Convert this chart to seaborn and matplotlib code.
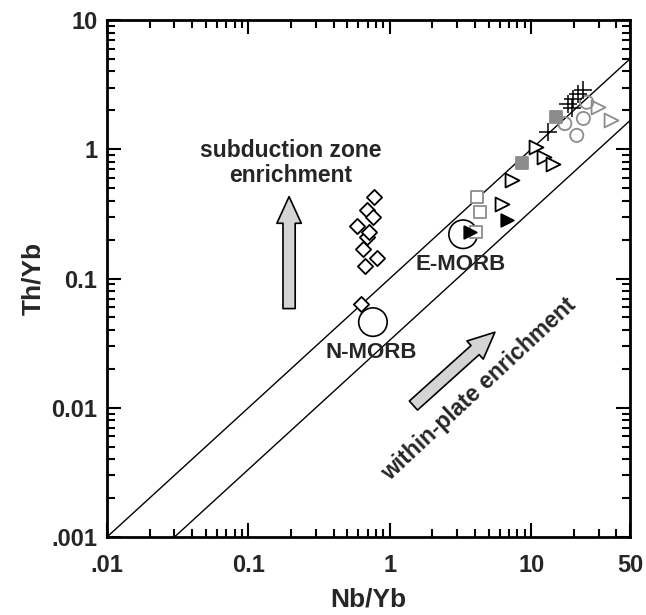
import matplotlib
matplotlib.use("Agg")
import matplotlib.pyplot as plt
import matplotlib.ticker as mticker
import numpy as np
import pandas as pd
import seaborn as sns

# Nb/Yb vs Th/Yb values
diamond_nb = [0.77, 0.69, 0.76, 0.59, 0.69, 0.71, 0.65, 0.81, 0.67, 0.625]
diamond_th = [0.43, 0.34, 0.30, 0.257, 0.21, 0.23, 0.168, 0.144, 0.124, 0.064]

grey_square_open_nb = [4.12, 4.34, 4.05]
grey_square_open_th = [0.43, 0.327, 0.229]

grey_square_fill_nb = [15.1, 8.65]
grey_square_fill_th = [1.78, 0.78]

triangle_open_nb = [10.9, 12.3, 14.3, 7.28, 6.18]
triangle_open_th = [1.04, 0.87, 0.775, 0.575, 0.379]

grey_triangle_nb = [29.8, 36.7]
grey_triangle_th = [2.13, 1.68]

triangle_fill_nb = [6.71, 3.69]
triangle_fill_th = [0.282, 0.23]

cross_nb = [13.15, 18.2, 19.8, 21.4, 23.2, 19.4]
cross_th = [1.355, 2.23, 2.44, 2.67, 2.87, 2.08]

grey_circle_nb = [17.3, 23.4, 21.0, 24.7]
grey_circle_th = [1.58, 1.73, 1.28, 2.31]

morb_names = ["N-MORB", "E-MORB"]
morb_nb = [0.76, 3.3]
morb_th = [0.046, 0.22]

# MORB-OIB array boundaries
array_x = [0.01, 50]
upper_th = [0.001, 5.0]
lower_x = [0.03, 50]
lower_th = [0.001, 50 / 30]

x_ticks = [0.01, 0.1, 1, 10, 50]
x_ticklabels = [".01", "0.1", "1", "10", "50"]
y_ticks = [0.001, 0.01, 0.1, 1, 10]
y_ticklabels = [".001", "0.01", "0.1", "1", "10"]

sns.set_style("ticks")
plt.rcParams["font.family"] = ["Liberation Sans", "DejaVu Sans"]
plt.rcParams["font.weight"] = "bold"

fig = plt.figure(figsize=(6.46, 6.15), dpi=100)
ax = fig.add_axes([107 / 646, 1 - 537 / 615, 523 / 646, 517 / 615])
ax.set_xscale("log")
ax.set_yscale("log")

sns.lineplot(x=array_x, y=upper_th, ax=ax, color="black", lw=1.0)
sns.lineplot(x=lower_x, y=lower_th, ax=ax, color="black", lw=1.0)

groups = [
    (diamond_nb, diamond_th, "D", "white", "black", 60),
    (grey_square_open_nb, grey_square_open_th, "s", "white", "#8c8c8c", 80),
    (grey_square_fill_nb, grey_square_fill_th, "s", "#8c8c8c", "#8c8c8c", 80),
    (triangle_open_nb, triangle_open_th, ">", "white", "black", 100),
    (grey_triangle_nb, grey_triangle_th, ">", "white", "#8c8c8c", 100),
    (triangle_fill_nb, triangle_fill_th, ">", "black", "black", 80),
    (grey_circle_nb, grey_circle_th, "o", "none", "#8c8c8c", 90),
]
for xs, ys, m, fc, ec, s in groups:
    sns.scatterplot(x=xs, y=ys, ax=ax, marker=m, s=s, facecolor=fc,
                    edgecolor=ec, linewidth=1.3, zorder=3)

sns.scatterplot(x=cross_nb, y=cross_th, ax=ax, marker="+", s=180,
                color="black", linewidth=1.1, zorder=3)

morb = pd.DataFrame({"name": morb_names, "nb": morb_nb, "th": morb_th})
sns.scatterplot(data=morb, x="nb", y="th", ax=ax, marker="o", s=420,
                facecolor="none", edgecolor="black", linewidth=1.2, zorder=2)
ax.text(0.736, 0.0267, "N-MORB", ha="center", va="center", fontsize=16, fontweight="bold")
ax.text(3.18, 0.128, "E-MORB", ha="center", va="center", fontsize=16, fontweight="bold")

arrow_style = "simple,head_length=1.2,head_width=1.1,tail_width=0.55"
ax.annotate("", xy=(0.194, 0.43), xytext=(0.194, 0.0585),
            arrowprops=dict(arrowstyle=arrow_style, mutation_scale=16,
                            fc="#d4d4d4", ec="black", lw=1.2,
                            shrinkA=0, shrinkB=0))
ax.annotate("", xy=(5.54, 0.0384), xytext=(1.47, 0.0104),
            arrowprops=dict(arrowstyle=arrow_style, mutation_scale=16,
                            fc="#d4d4d4", ec="black", lw=1.2,
                            shrinkA=0, shrinkB=0))

ax.text(0.2, 0.786, "subduction zone\nenrichment", ha="center", va="center",
        fontsize=16.5, fontweight="bold", linespacing=1.1)
ax.text(4.27, 0.014, "within-plate enrichment", ha="center", va="center",
        rotation=43, fontsize=16.5, fontweight="bold")

ax.set_xlim(0.01, 50)
ax.set_ylim(0.001, 10)
ax.set_xticks(x_ticks)
ax.set_xticklabels(x_ticklabels)
ax.set_yticks(y_ticks)
ax.set_yticklabels(y_ticklabels)
ax.xaxis.set_minor_locator(mticker.LogLocator(base=10, subs=np.arange(2, 10)))
ax.yaxis.set_minor_locator(mticker.LogLocator(base=10, subs=np.arange(2, 10)))
ax.xaxis.set_minor_formatter(mticker.NullFormatter())
ax.yaxis.set_minor_formatter(mticker.NullFormatter())
ax.tick_params(which="both", direction="in", top=True, right=True,
               labelsize=17, width=1.5, color="black")
ax.tick_params(axis="x", which="major", pad=12)
ax.tick_params(axis="y", which="major", pad=7)
ax.tick_params(which="major", length=10)
ax.tick_params(which="minor", length=6)
for lbl in ax.get_xticklabels() + ax.get_yticklabels():
    lbl.set_fontweight("bold")
for sp in ax.spines.values():
    sp.set_linewidth(2)
    sp.set_color("black")

ax.set_xlabel("Nb/Yb", fontsize=19, fontweight="bold", labelpad=8)
ax.set_ylabel("Th/Yb", fontsize=19, fontweight="bold", labelpad=4)

fig.savefig("out.png", dpi=100)
